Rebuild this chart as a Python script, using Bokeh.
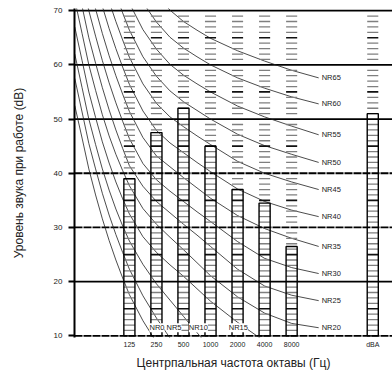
from bokeh.plotting import figure
from bokeh.models import Range1d, FixedTicker, Span, Label
from bokeh.core.properties import value
from bokeh.embed import file_html
from bokeh.resources import INLINE

# ---------------- data ----------------
bands = ["125", "250", "500", "1000", "2000", "4000", "8000", "dBA"]
band_pos = [0, 1, 2, 3, 4, 5, 6, 9]          # octave index (125 Hz = 0), dBA column apart
levels = [39, 47.5, 52, 45, 37, 34.5, 26.5, 51]

y_ticks = [10, 20, 30, 40, 50, 60, 70]

# NR curves at these octave-index positions (None = off chart)
octave_x = [-2.02, -1.75, -1.5, -1.25, -1.0, -0.75, -0.5, -0.25, 0, 0.5,
            1.0, 1.5, 2.0, 2.5, 3.0, 4.0, 5.0, 6.0, 7.0]
N = None
nr0 = [52.5, 46.5, 40.8, 36.0, 31.6, 27.6, 24.0, 20.7, 17.6, 12.8, 8.8, N, N, N, N, N, N, N, N]
nr5 = [57.5, 51.3, 45.5, 40.8, 36.3, 32.3, 28.7, 25.4, 22.3, 17.4, 13.3, 9.6, N, N, N, N, N, N, N]
nr10 = [62.0, 55.8, 50.0, 45.3, 40.8, 36.9, 33.4, 30.3, 27.5, 23.2, 19.6, 16.6, 13.6, 10.6, 7.6, N, N, N, N]
nr15 = [67.0, 60.8, 55.0, 50.3, 45.8, 41.9, 38.4, 35.3, 32.5, 28.3, 25.4, 23.1, 21.0, 18.7, 16.4, 12.5, 9.0, N, N]
nr20 = [72.0, 65.8, 60.0, 55.3, 50.8, 46.9, 43.5, 40.5, 37.7, 33.5, 30.6, 28.2, 25.9, 23.5, 21.1, 17.2, 14.2, 12.3, 11.5]
nr25 = [N, 70.8, 65.0, 60.3, 55.8, 51.7, 48.0, 44.6, 41.4, 37.6, 34.8, 32.7, 30.6, 28.6, 26.5, 22.3, 19.2, 17.5, 16.5]
nr30 = [N, 75.8, 70.0, 65.3, 60.8, 56.7, 53.0, 49.6, 46.4, 41.8, 38.8, 36.7, 34.8, 32.9, 31.1, 27.4, 24.3, 22.6, 21.5]
nr35 = [N, N, 75.0, 70.3, 65.8, 61.7, 58.0, 54.6, 51.4, 46.6, 43.2, 41.2, 39.2, 37.3, 35.4, 32.2, 29.8, 28.0, 26.5]
nr40 = [N, N, N, 75.3, 70.8, 66.7, 63.0, 59.6, 56.4, 51.5, 47.9, 45.6, 43.8, 42.0, 40.3, 37.1, 34.8, 33.2, 32.0]
nr45 = [N, N, N, N, 75.8, 71.7, 68.0, 64.6, 61.4, 56.5, 52.9, 50.4, 48.6, 46.9, 45.3, 42.2, 40.0, 38.4, 37.0]
nr50 = [N, N, N, N, N, N, 73.0, 69.6, 66.4, 61.5, 57.9, 55.2, 53.2, 51.6, 50.0, 47.2, 45.1, 43.5, 42.0]
nr55 = [N, N, N, N, N, N, N, 74.6, 71.4, 66.5, 62.9, 60.1, 58.1, 56.5, 55.0, 52.4, 50.4, 48.7, 47.1]
nr60 = [N, N, N, N, N, N, N, N, N, 71.5, 67.9, 65.1, 63.1, 61.5, 60.0, 57.6, 55.7, 54.1, 52.8]
nr65 = [N, N, N, N, N, N, N, N, N, N, 72.9, 70.1, 68.0, 66.4, 64.9, 62.6, 60.7, 59.0, 57.6]

right_names = ["NR20", "NR25", "NR30", "NR35", "NR40", "NR45", "NR50", "NR55", "NR60", "NR65"]
right_curves = [nr20, nr25, nr30, nr35, nr40, nr45, nr50, nr55, nr60, nr65]
bottom_names = ["NR0", "NR5", "NR10", "NR15"]
bottom_curves = [nr0, nr5, nr10, nr15]

# ---------------- figure ----------------
FONT = "Liberation Sans"
p = figure(width=392, height=380, output_backend="svg", toolbar_location=None,
           x_range=Range1d(-2.03, 9.73), y_range=Range1d(9.7, 70.4),
           min_border_left=74, min_border_right=0, min_border_top=8, min_border_bottom=43)
p.outline_line_color = None
p.xgrid.visible = False
p.ygrid.visible = False
p.background_fill_color = "white"
p.border_fill_color = "white"

# horizontal reference lines
for v in y_ticks:
    dash = "8 1" if v in (10, 30, 40) else "solid"
    p.add_layout(Span(location=v, dimension="width", line_color="black",
                      line_width=1.8, line_dash=dash, level="underlay"))

# NR curves
xs, ys = [], []
for curve in right_curves + bottom_curves:
    pts = [(x, y) for x, y in zip(octave_x, curve) if y is not None]
    xs.append([q[0] for q in pts])
    ys.append([q[1] for q in pts])
p.multi_line(xs, ys, line_color="#1e1e1e", line_width=0.8)

# scale dashes in each column
bw = 0.41
x0, x1, yy, cols, wids = [], [], [], [], []
for c in band_pos:
    for lv in range(11, 70):
        if lv % 10 == 0:
            continue
        x0.append(c - bw / 2)
        x1.append(c + bw / 2)
        yy.append(lv)
        if lv % 5 == 0:
            cols.append("#111111")
            wids.append(1.7)
        else:
            cols.append("#7f7f7f")
            wids.append(1.3)
p.segment(x0=x0, y0=yy, x1=x1, y1=yy, line_color=cols, line_width=wids)

# bars (outlined)
p.quad(left=[c - bw / 2 for c in band_pos], right=[c + bw / 2 for c in band_pos],
       bottom=[10] * len(band_pos), top=levels,
       fill_color=None, line_color="black", line_width=1.4)

# right-hand NR labels at curve ends
lx = [octave_x[-1]] * len(right_curves)
ly = [c[-1] for c in right_curves]
p.text(x=lx, y=ly, text=right_names, x_offset=3, text_baseline="middle",
       text_align="left", text_font=value(FONT), text_font_size="7.5px",
       text_color="#222222")

# bottom NR labels (on white, over columns)
bottom_label_x = [1.02, 1.65, 2.55, 4.03]
for name, bx in zip(bottom_names, bottom_label_x):
    p.add_layout(Label(x=bx, y=11.5, text=name, text_align="center",
                       text_baseline="middle", text_font=FONT,
                       text_font_size="7.5px", text_color="#222222",
                       background_fill_color="white"))

# axes
p.xaxis.ticker = FixedTicker(ticks=band_pos)
p.xaxis.major_label_overrides = {pos: name for pos, name in zip(band_pos, bands)}
p.xaxis.axis_line_color = None
p.xaxis.major_tick_line_color = None
p.xaxis.major_tick_out = 0
p.xaxis.major_tick_in = 0
p.xaxis.minor_tick_line_color = None
p.xaxis.major_label_standoff = 3
p.xaxis.major_label_text_font = FONT
p.xaxis.major_label_text_font_size = "7px"
p.xaxis.major_label_text_color = "#222222"
p.xaxis.axis_label = "Центрпальная частота октавы (Гц)"
p.xaxis.axis_label_standoff = 5
p.xaxis.axis_label_text_font = FONT
p.xaxis.axis_label_text_font_style = "normal"
p.xaxis.axis_label_text_font_size = "12px"
p.xaxis.axis_label_text_color = "#222222"

p.yaxis.ticker = FixedTicker(ticks=y_ticks)
p.yaxis.axis_line_color = "black"
p.yaxis.axis_line_width = 2
p.yaxis.major_tick_line_color = "black"
p.yaxis.major_tick_line_width = 1.8
p.yaxis.major_tick_out = 6
p.yaxis.major_tick_in = 0
p.yaxis.minor_tick_line_color = None
p.yaxis.major_label_standoff = 6
p.yaxis.major_label_text_font = FONT
p.yaxis.major_label_text_font_size = "8px"
p.yaxis.major_label_text_color = "#222222"
p.yaxis.axis_label = "Уровень звука при работе (dB)"
p.yaxis.axis_label_standoff = 25
p.yaxis.axis_label_text_font = FONT
p.yaxis.axis_label_text_font_style = "normal"
p.yaxis.axis_label_text_font_size = "12px"
p.yaxis.axis_label_text_color = "#222222"

open("out.html", "w").write(file_html(p, INLINE))
